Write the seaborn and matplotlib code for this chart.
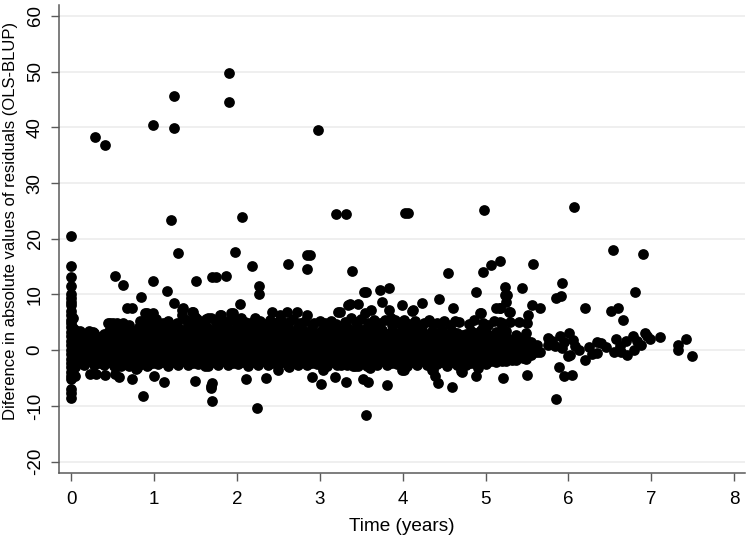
import matplotlib
matplotlib.use("Agg")
import matplotlib.pyplot as plt
import seaborn as sns
import pandas as pd

# ---- data ---------------------------------------------------------------
# vertical stripe at time 0
zero_x = [0.0] * 28 + [0.02] * 7
zero_y = [20.5, 15.2, 13.2, 11.5, 10.0, 9.3, 8.6, 8.1, 7.0, 6.3, 5.4, 4.8, 4.1, 3.3,
          2.5, 1.7, 0.9, 0.1, -0.7, -1.5, -2.3, -3.1, -3.9, -4.6, -5.2, -7.0, -7.6, -8.5,
          5.8, 3.9, 2.0, 0.4, -1.2, -2.8, -4.2]

# dense central band (columns of points)
core_x = [0.04, 0.09, 0.15, 0.21, 0.27, 0.33, 0.39, 0.45, 0.51, 0.57, 0.63, 0.69, 0.75,
          0.81, 0.87, 0.93, 0.99, 1.05, 1.11, 1.17, 1.23, 1.29, 1.35, 1.41, 1.47, 1.53,
          1.59, 1.65, 1.71, 1.77, 1.83, 1.89, 1.95, 2.01, 2.07, 2.13, 2.19, 2.25, 2.31,
          2.37, 2.43, 2.49, 2.55, 2.61, 2.67, 2.73, 2.79, 2.85, 2.91, 2.97, 3.03, 3.09,
          3.15, 3.21, 3.27, 3.33, 3.39, 3.45, 3.51, 3.57, 3.63, 3.69, 3.75, 3.81, 3.87,
          3.93, 3.99, 4.05, 4.11, 4.17, 4.23, 4.29, 4.35, 4.41, 4.47, 4.53, 4.59, 4.65,
          4.71, 4.77, 4.83, 4.89, 4.95, 5.01, 5.07, 5.13, 5.19, 5.25, 5.31, 5.37, 5.43,
          5.49, 5.55, 5.62]
core_y = [
    [-4.6, -3.0, -1.6, -0.3, 1.0, 2.4, 3.6],
    [-2.2, -1.0, 0.1, 1.2, 2.3, 3.3],
    [-2.6, -1.4, -0.4, 0.7, 1.8, 2.8],
    [-2.0, -0.9, 0.3, 1.4, 2.6, 3.4],
    [-2.7, -1.5, -0.2, 0.9, 2.0, 3.1],
    [-2.3, -1.1, 0.0, 1.2, 2.3],
    [-2.6, -1.6, -0.5, 0.6, 1.7, 2.9],
    [-2.1, -0.9, 0.2, 1.3, 2.4, 3.4],
    [-2.8, -1.5, -0.3, 0.8, 1.9, 3.0],
    [-2.2, -1.0, 0.1, 1.1, 2.2, 3.6],
    [-2.5, -1.4, -0.2, 0.9, 2.0, 3.1],
    [-2.9, -1.7, -0.6, 0.5, 1.6, 2.7, 3.8],
    [-2.3, -1.1, 0.1, 1.2, 2.4, 3.4],
    [-2.6, -1.3, -0.1, 1.0, 2.1, 3.2, 4.2],
    [-2.0, -0.9, 0.3, 1.4, 2.6, 3.7],
    [-2.7, -1.5, -0.4, 0.7, 1.8, 2.9, 4.5],
    [-2.3, -1.2, 0.0, 1.1, 2.2, 3.4],
    [-2.5, -1.4, -0.2, 0.9, 2.0, 3.1, 4.1],
    [-2.1, -0.8, 0.4, 1.5, 2.7, 3.8],
    [-2.8, -1.6, -0.5, 0.6, 1.7, 2.8],
    [-2.2, -1.0, 0.1, 1.2, 2.3, 3.5],
    [-2.6, -1.4, -0.3, 0.8, 1.9, 3.0, 4.0],
    [-2.0, -0.9, 0.2, 1.3, 2.5, 3.6],
    [-2.7, -1.5, -0.4, 0.7, 1.8, 2.9, 4.3],
    [-2.3, -1.1, 0.0, 1.1, 2.2, 3.3],
    [-2.5, -1.3, -0.2, 0.9, 2.1, 3.2, 4.6],
    [-2.1, -0.9, 0.3, 1.4, 2.6, 3.7],
    [-2.8, -1.6, -0.5, 0.6, 1.7, 2.8, 3.9],
    [-2.2, -1.0, 0.1, 1.2, 2.4, 3.5],
    [-2.6, -1.4, -0.3, 0.8, 1.9, 3.0, 4.4],
    [-2.0, -0.8, 0.4, 1.5, 2.7, 3.8],
    [-2.7, -1.5, -0.4, 0.7, 1.8, 2.9, 4.0],
    [-2.3, -1.2, 0.0, 1.1, 2.2, 3.4],
    [-2.5, -1.3, -0.2, 0.9, 2.0, 3.1, 4.3],
    [-2.1, -0.9, 0.3, 1.4, 2.5, 3.6],
    [-2.8, -1.6, -0.5, 0.6, 1.7, 2.9, 4.0],
    [-2.2, -1.0, 0.1, 1.2, 2.3, 3.5],
    [-2.6, -1.4, -0.3, 0.8, 1.9, 3.0, 4.2],
    [-2.0, -0.9, 0.2, 1.3, 2.5, 3.7],
    [-2.7, -1.5, -0.4, 0.7, 1.8, 2.8, 3.9],
    [-2.3, -1.1, 0.0, 1.1, 2.2, 3.4],
    [-2.5, -1.3, -0.2, 0.9, 2.0, 3.1, 4.1],
    [-2.1, -0.9, 0.3, 1.4, 2.6, 3.6],
    [-2.8, -1.6, -0.5, 0.6, 1.7, 2.8, 3.8],
    [-2.2, -1.0, 0.1, 1.2, 2.3, 3.5],
    [-2.6, -1.4, -0.3, 0.8, 1.9, 3.0, 4.2],
    [-2.0, -0.8, 0.4, 1.5, 2.7, 3.7],
    [-2.7, -1.5, -0.4, 0.7, 1.8, 2.9],
    [-2.3, -1.2, 0.0, 1.1, 2.2, 3.4, 4.4],
    [-2.5, -1.3, -0.2, 0.9, 2.0, 3.1],
    [-2.9, -2.1, -0.9, 0.3, 1.4, 2.5, 3.6],
    [-2.8, -1.6, -0.5, 0.6, 1.7, 2.8, 3.9],
    [-2.2, -1.0, 0.1, 1.2, 2.3, 3.5],
    [-2.6, -1.4, -0.3, 0.8, 1.9, 3.0],
    [-2.0, -0.9, 0.2, 1.3, 2.5, 3.7],
    [-2.7, -1.5, -0.4, 0.7, 1.8, 2.9, 4.1],
    [-2.3, -1.1, 0.0, 1.1, 2.2, 3.4],
    [-2.5, -1.3, -0.2, 0.9, 2.0, 3.1, 4.3],
    [-2.1, -0.9, 0.3, 1.4, 2.6, 3.6],
    [-2.8, -1.6, -0.5, 0.6, 1.7, 2.8, 3.9],
    [-2.2, -1.0, 0.1, 1.2, 2.3, 3.5],
    [-2.6, -1.4, -0.3, 0.8, 1.9, 3.0, 4.4],
    [-2.0, -0.8, 0.4, 1.5, 2.7, 3.7],
    [-2.7, -1.5, -0.4, 0.7, 1.8, 2.9],
    [-2.3, -1.2, 0.0, 1.1, 2.2, 3.4, 4.6],
    [-2.5, -1.3, -0.2, 0.9, 2.0, 3.1],
    [-2.1, -0.9, 0.3, 1.4, 2.5, 3.6],
    [-2.8, -1.6, -0.5, 0.6, 1.7, 2.9, 4.0],
    [-2.2, -1.0, 0.1, 1.2, 2.3, 3.5],
    [-2.6, -1.4, -0.3, 0.8, 1.9, 3.0],
    [-2.0, -0.9, 0.2, 1.3, 2.5, 3.7],
    [-2.7, -1.5, -0.4, 0.7, 1.8, 2.8],
    [-2.3, -1.1, 0.0, 1.1, 2.2, 3.4],
    [-2.5, -1.3, -0.2, 0.9, 2.0, 3.1],
    [-2.1, -0.9, 0.3, 1.4, 2.6, 3.6],
    [-2.8, -1.6, -0.5, 0.6, 1.7, 2.8],
    [-2.2, -1.0, 0.1, 1.2, 2.3, 3.5],
    [-2.6, -1.4, -0.3, 0.8, 1.9, 3.0],
    [-2.0, -0.8, 0.4, 1.5, 2.7],
    [-2.7, -1.5, -0.4, 0.7, 1.8, 2.9],
    [-2.3, -1.2, 0.0, 1.1, 2.2, 3.4],
    [-2.5, -1.3, -0.2, 0.9, 2.0, 3.1],
    [-2.1, -0.9, 0.3, 1.4, 2.5, 3.6],
    [-2.4, -1.2, -0.1, 1.0, 2.1, 3.2],
    [-1.9, -0.8, 0.3, 1.4, 2.6],
    [-2.2, -1.0, 0.1, 1.2, 2.3, 3.3],
    [-1.6, -0.5, 0.6, 1.7, 2.8],
    [-2.0, -0.9, 0.2, 1.3, 2.4, 3.5],
    [-1.4, -0.3, 0.8, 1.9],
    [-1.8, -0.6, 0.5, 1.6, 2.7],
    [-1.0, 0.1, 1.2, 2.2],
    [-1.5, -0.4, 0.7, 1.8, 3.0],
    [-0.8, 0.3, 1.4],
    [-0.3, 0.9],
]

# ragged upper edge of the band
upper_x = [0.56, 0.62, 0.70, 0.83, 0.95, 1.02, 1.08, 1.16, 1.27, 1.38, 1.44, 1.52, 1.58,
           1.63, 1.74, 1.80, 1.86, 1.92, 1.99, 2.05, 2.16, 2.28, 2.34, 2.40, 2.47, 2.53,
           2.63, 2.68, 2.76, 2.82, 2.93, 3.06, 3.13, 3.20, 3.30, 3.37, 3.44, 3.50, 3.58,
           3.65, 3.72, 3.79, 3.86, 3.95, 4.02, 4.08, 4.15, 4.26, 4.32, 4.42, 4.50, 4.57,
           4.68, 4.80, 4.86, 5.03, 5.10]
upper_y = [4.3, 4.9, 4.6, 5.2, 5.0, 5.6, 4.7, 5.3, 4.9, 5.5, 4.8, 5.6, 5.0,
           5.6, 5.1, 5.7, 4.9, 5.5, 5.0, 5.8, 4.9, 5.3, 4.7, 5.5, 4.9, 5.4,
           5.0, 5.6, 4.8, 5.3, 4.8, 4.9, 5.3, 4.7, 5.1, 5.7, 5.0, 5.6, 4.9,
           5.5, 4.8, 5.4, 5.8, 4.9, 5.4, 4.7, 5.2, 4.8, 5.5, 4.9, 5.3, 4.6,
           5.0, 4.7, 5.4, 4.6, 5.3]

# scattered points outside the band
sparse_x = [0.29, 0.40, 0.99, 1.24, 1.24, 1.90, 1.90, 1.20, 1.29, 2.06, 1.97, 2.98, 3.19,
            3.32, 4.03, 4.06, 4.98, 6.07, 6.54, 6.90, 2.84, 2.88, 2.62, 2.18, 2.85, 3.39,
            4.55, 4.97, 5.07, 5.18, 5.57,
            0.53, 0.62, 0.99, 1.15, 0.84, 1.24, 1.50, 1.70, 1.75, 1.87, 2.03, 0.67, 0.73,
            0.46, 0.55, 1.34, 0.91, 0.99, 1.47, 1.81, 1.95, 0.10, 0.26, 0.89, 0.97, 1.35,
            1.33, 1.45, 1.49, 0.50, 0.44, 0.87, 1.11, 1.19, 1.69,
            2.27, 2.26, 3.56, 3.73, 3.83, 4.89, 4.44, 3.75, 3.36, 3.46, 3.24, 3.99, 4.23,
            4.61, 2.42, 2.84, 3.00, 4.93, 5.13, 4.11, 4.33, 4.63,
            1.79, 1.93, 1.65, 2.52, 2.60, 2.72, 2.22, 2.10, 3.22, 3.34, 3.53, 2.44, 2.56,
            3.83, 3.54, 3.62, 4.13, 4.19, 4.95, 4.97, 5.26, 5.28, 5.18, 5.20, 3.91, 3.99,
            5.92, 5.24, 5.44, 5.24, 5.25, 5.85, 5.91, 6.81, 5.17, 5.29, 5.56, 5.66, 5.51,
            6.20, 6.51, 6.60, 6.66, 5.40, 5.50, 5.18, 5.30, 5.20,
            5.76, 5.90, 6.01, 6.06, 6.34, 6.40, 6.58, 6.78, 6.93, 6.98, 7.11, 7.32, 7.32,
            7.42, 7.49, 6.88, 6.79, 6.71, 6.55, 6.63, 6.34, 6.20, 6.13, 5.99, 5.89, 5.95,
            6.04, 5.85, 5.21, 5.50, 5.58, 5.66, 5.76, 5.84, 5.92, 6.02, 5.45, 5.35, 5.20,
            5.80, 5.95, 6.08, 6.25, 6.28, 6.45, 6.62, 6.70, 6.83, 6.95,
            0.22, 0.30, 0.40, 0.52, 0.58, 0.73, 0.79, 0.86, 1.00, 1.12, 1.49, 1.68, 1.70,
            1.70, 2.11, 0.91, 0.78, 0.55, 0.60,
            2.35, 2.63, 2.90, 3.01, 3.18, 3.31, 3.42, 3.52, 3.58, 3.81, 4.01, 4.37, 4.39,
            4.43, 4.60, 4.72, 4.88, 4.91, 2.24, 3.56,
            1.61, 1.69, 2.49, 3.04, 3.26, 3.40, 3.60, 3.99, 4.35, 4.70, 5.32, 3.46, 3.60]
sparse_y = [38.3, 36.9, 40.4, 45.7, 39.9, 49.7, 44.5, 23.4, 17.4, 23.9, 17.7, 39.5, 24.4,
            24.4, 24.7, 24.6, 25.2, 25.7, 18.0, 17.3, 17.1, 17.1, 15.4, 15.2, 14.5, 14.2,
            13.9, 14.0, 15.3, 16.1, 15.5,
            13.4, 11.7, 12.5, 10.6, 9.5, 8.5, 12.5, 13.1, 13.1, 13.4, 8.3, 7.6, 7.6,
            4.8, 4.8, 7.2, 6.6, 6.6, 6.8, 6.3, 6.6, 3.5, 3.3, 6.6, 6.3, 7.5,
            6.3, 6.9, 6.0, 4.8, 4.8, 5.1, 4.8, 4.5, 5.7,
            11.6, 10.1, 10.5, 10.8, 11.2, 10.4, 9.2, 8.7, 8.3, 8.3, 6.9, 8.1, 8.4,
            7.6, 6.9, 6.3, 5.3, 6.6, 7.5, 7.0, 5.1, 5.3,
            6.3, 6.6, 5.7, 6.3, 6.8, 6.8, 5.7, 5.1, 6.8, 8.1, 10.5, 4.8, 4.8,
            7.2, 6.6, 7.2, 7.2, 4.2, 6.6, 4.8, 9.9, 6.9, 7.5, 4.8, 5.4, 5.1,
            12.0, 11.4, 11.1, 9.9, 8.7, 9.3, 9.7, 10.5, 7.5, 6.8, 8.1, 7.5, 6.3,
            7.6, 7.1, 7.5, 5.4, 5.1, 4.8, 5.0, 5.1, 3.9,
            2.2, 2.6, 3.1, 1.8, 1.5, 1.3, 2.0, 2.6, 3.1, 2.0, 2.3, 1.0, 0.1,
            2.0, -1.1, 1.0, 0.0, -0.8, -0.3, -0.3, -0.5, -1.7, 0.0, -1.1, -3.1, -4.7,
            -4.4, -8.8, -5.0, -4.4, -0.3, -0.3, 1.0, 0.8, 0.4, -0.8, -1.4, -1.6, -2.0,
            1.6, 1.5, 0.8, 0.6, -0.6, 0.6, 0.8, 1.7, 1.6, 2.5,
            -4.3, -4.3, -4.4, -4.3, -4.9, -5.2, -3.2, -8.2, -4.6, -5.8, -5.5, -6.5, -5.9,
            -9.2, -5.2, -2.9, -3.4, -2.6, -2.9,
            -5.0, -3.1, -4.9, -6.1, -4.8, -5.8, -2.8, -5.2, -5.8, -6.3, -3.5, -3.5, -4.7,
            -5.9, -6.6, -4.0, -4.6, -3.2, -10.4, -11.6,
            -2.9, -6.8, -3.5, -3.5, -2.6, -2.9, -3.2, -3.5, -3.5, -3.8, -1.7, -2.9, -2.0]

x_ticks = [0, 1, 2, 3, 4, 5, 6, 7, 8]
y_ticks = [-20, -10, 0, 10, 20, 30, 40, 50, 60]
x_label = "Time (years)"
y_label = "Diference in absolute values of residuals (OLS-BLUP)"

# ---- assemble ------------------------------------------------------------
xs, ys = list(zero_x), list(zero_y)
for cx, col in zip(core_x, core_y):
    xs += [cx] * len(col)
    ys += col
xs += upper_x + sparse_x
ys += upper_y + sparse_y
df = pd.DataFrame({"time": xs, "diff": ys})

sns.set_theme(style="white")
plt.rcParams["font.family"] = ["Liberation Sans", "DejaVu Sans"]

fig = plt.figure(figsize=(7.5, 5.38), dpi=100)
ax = fig.add_axes([0.0787, 0.1203, 0.9143, 0.8707])

ax.set_axisbelow(True)
for t in y_ticks:
    ax.axhline(t, color="#ebebeb", lw=1.1, zorder=0)

sns.scatterplot(data=df, x="time", y="diff", ax=ax, color="black", s=60,
                linewidth=0, legend=False, zorder=3)

ax.set_xlim(-0.15, 8.13)
ax.set_ylim(-22.1, 62.0)
ax.set_xticks(x_ticks)
ax.set_yticks(y_ticks)
ax.set_xticklabels([str(t) for t in x_ticks])
ax.set_yticklabels([str(t) for t in y_ticks], rotation=90, va="center")

for side in ["top", "right"]:
    ax.spines[side].set_visible(False)
for side in ["left", "bottom"]:
    ax.spines[side].set_color("#5a5a5a")
    ax.spines[side].set_linewidth(1.1)

ax.tick_params(axis="both", which="major", direction="out", length=6, width=1.0,
               color="#5a5a5a", labelsize=13.5, labelcolor="black", bottom=True, left=True)
ax.tick_params(axis="y", pad=5)
ax.tick_params(axis="x", pad=7)

ax.set_xlabel(x_label, fontsize=13.7, color="black", labelpad=7)
ax.set_ylabel(y_label, fontsize=12, color="black")
ax.yaxis.set_label_coords(-0.060, 0.539)

fig.savefig("out.png", dpi=100, facecolor="white")
